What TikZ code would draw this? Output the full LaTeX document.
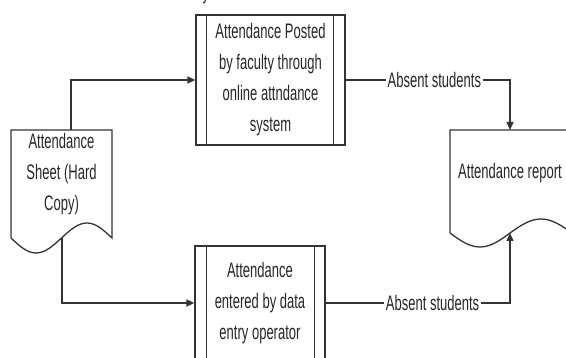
\documentclass[tikz,border=0pt]{standalone}
\usepackage{fontspec}
\setmainfont{Liberation Sans}[FakeStretch=0.62]
\usetikzlibrary{arrows.meta}
\begin{document}
\begin{tikzpicture}[x=1pt,y=-1pt,
  every node/.style={font=\fontsize{21}{31}\selectfont, text=black!85},
  lw/.style={line width=1.3pt, draw=black!80},
  procbox/.style={lw, rectangle, align=center, inner sep=0pt},
  txt/.style={align=center, inner sep=0pt},
  conn/.style={lw, -{Triangle[length=8pt,width=7pt]}},
  lbl/.style={fill=white, inner sep=1.5pt}]
\useasboundingbox (0,0) rectangle (566,358);
% cropped descender from text above
\node[anchor=base, inner sep=0pt] (frag) at (206,0) {y};
% top process
\node[procbox, minimum width=149pt, minimum height=130pt] (pt) at (270.5,80)
  {Attendance Posted\\by faculty through\\online attndance\\system};
\draw[lw] ([xshift=11pt]pt.north west) -- ([xshift=11pt]pt.south west);
\draw[lw] ([xshift=-12pt]pt.north east) -- ([xshift=-12pt]pt.south east);
% bottom process
\node[procbox, minimum width=130pt, minimum height=114pt] (pb) at (260,303)
  {Attendance\\entered by data\\entry operator};
\draw[lw] ([xshift=12pt]pb.north west) -- ([xshift=12pt]pb.south west);
\draw[lw] ([xshift=-11pt]pb.north east) -- ([xshift=-11pt]pb.south east);
% left document
\draw[lw] (11,238) -- (11,130) -- (112,130) -- (112,238)
  sin (87,223) cos (61.5,238) sin (36,253) cos (11,238);
\node[txt] (ld) at (61.5,174) {Attendance\\Sheet (Hard\\Copy)};
\coordinate (ldtop) at (71,130);
\coordinate (ldbot) at (62,238);
% right document
\draw[lw] (450,233) -- (450,130) -- (572,130) -- (572,233)
  sin (541,219) cos (510,233) sin (480,247) cos (450,233);
\node[txt] (rd) at (510,173) {Attendance report};
\coordinate (rdtop) at (510,130);
\coordinate (rdbot) at (510,233);
% connectors
\draw[conn] (ldtop) |- (pt.west);
\draw[conn, line width=1.7pt] (ldbot) |- (pb.west);
\draw[conn] (pt.east) -| (rdtop) node[lbl, pos=0.27] (l1) {Absent students};
\draw[conn] (pb.east) -| (rdbot) node[lbl, pos=0.29] (l2) {Absent students};
\end{tikzpicture}
\end{document}
